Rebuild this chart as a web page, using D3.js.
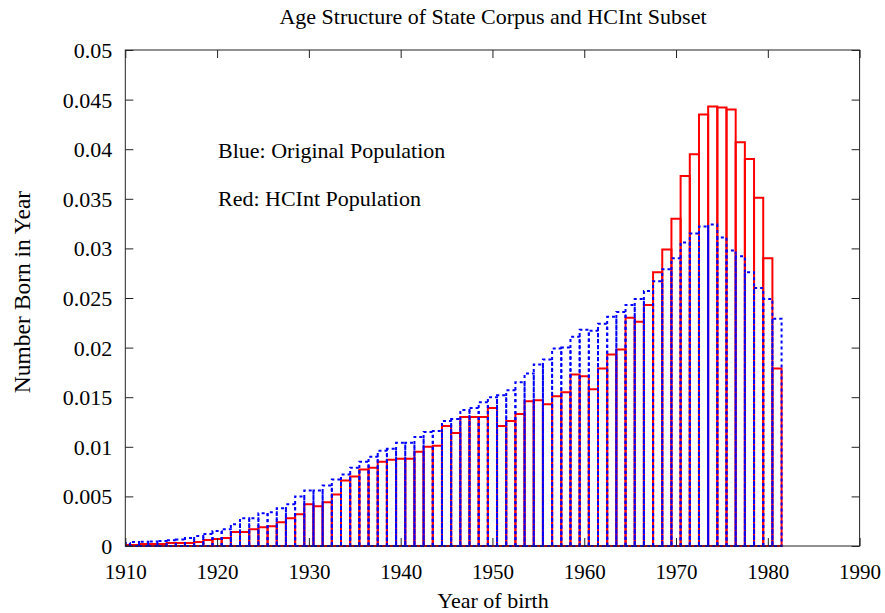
<!DOCTYPE html>
<html>
<head>
<meta charset="utf-8">
<script src="https://cdn.jsdelivr.net/npm/d3@7"></script>
<style>
  html, body { margin: 0; padding: 0; background: #fff; }
  svg { display: block; }
  text { font-family: "Liberation Serif", "DejaVu Serif", serif; fill: #000; }
</style>
</head>
<body>
<script>
// ---- data ----
const years = d3.range(1910, 1982); // 1910..1981
const originalPopulation = [
  0.0003, 0.0004, 0.00044, 0.00045, 0.0005, 0.00057, 0.00065, 0.0008, 0.001, 0.0012,
  0.0015, 0.0017, 0.0022, 0.0028, 0.0028, 0.0033, 0.0034, 0.0038, 0.0042, 0.0050,
  0.0056, 0.0056, 0.0061, 0.0067, 0.0072, 0.0079, 0.0085, 0.0090, 0.0096, 0.0098,
  0.0104, 0.0104, 0.0110, 0.0115, 0.0116, 0.0126, 0.0128, 0.0137, 0.0139, 0.0145,
  0.0150, 0.0152, 0.0157, 0.0165, 0.0174, 0.0183, 0.0188, 0.0199, 0.0200, 0.0211,
  0.0218, 0.0217, 0.0224, 0.0231, 0.0236, 0.0243, 0.0249, 0.0257, 0.0267, 0.0279,
  0.0290, 0.0306, 0.0315, 0.0322, 0.0324, 0.0311, 0.0298, 0.0292, 0.0276, 0.0260,
  0.0249, 0.0229
];
const hcintPopulation = [
  0.0001, 0.0001, 0.0002, 0.0002, 0.0002, 0.0003, 0.0003, 0.0003, 0.0004, 0.0006,
  0.0007, 0.0008, 0.0014, 0.0014, 0.0017, 0.0019, 0.0020, 0.0024, 0.0028, 0.0032,
  0.0042, 0.0040, 0.0044, 0.0052, 0.0066, 0.0070, 0.0077, 0.0079, 0.0085, 0.0087,
  0.0088, 0.0088, 0.0095, 0.0100, 0.0101, 0.0121, 0.0114, 0.0130, 0.0130, 0.0130,
  0.0139, 0.0121, 0.0126, 0.0133, 0.0146, 0.0147, 0.0143, 0.0151, 0.0155, 0.0173,
  0.0171, 0.0158, 0.0179, 0.0193, 0.0198, 0.0230, 0.0226, 0.0243, 0.0276, 0.0299,
  0.0330, 0.0373, 0.0395, 0.0435, 0.0443, 0.0442, 0.0440, 0.0407, 0.0390, 0.0351,
  0.0290, 0.0179
];
const xTicks = [1910, 1920, 1930, 1940, 1950, 1960, 1970, 1980, 1990];
const yTicks = [0, 0.005, 0.01, 0.015, 0.02, 0.025, 0.03, 0.035, 0.04, 0.045, 0.05];
const yTickLabels = ["0", "0.005", "0.01", "0.015", "0.02", "0.025", "0.03", "0.035", "0.04", "0.045", "0.05"];
const titleText = "Age Structure of State Corpus and HCInt Subset";
const xLabel = "Year of birth";
const yLabel = "Number Born in Year";
const notes = ["Blue: Original Population", "Red: HCInt Population"];

// ---- layout ----
const W = 885, H = 613;
const L = 125.3, R = 859.6, T = 50, B = 546;

const svg = d3.select("body").append("svg").attr("width", W).attr("height", H);

const x = d3.scaleLinear().domain([1910, 1990]).range([L, R]);
const y = d3.scaleLinear().domain([0, 0.05]).range([B, T]);

svg.append("defs").append("clipPath").attr("id", "plotclip")
  .append("rect").attr("x", L).attr("y", T - 2).attr("width", R - L).attr("height", B - T + 4);

// ---- bars ----
const plot = svg.append("g").attr("clip-path", "url(#plotclip)");

function boxPath(yr, v) {
  const x0 = x(yr - 0.5), x1 = x(yr + 0.5), y0 = y(0), y1 = y(v);
  return `M${x0},${y0}L${x0},${y1}L${x1},${y1}L${x1},${y0}Z`;
}

plot.append("g").selectAll("path")
  .data(years.map((yr, i) => ({yr, v: hcintPopulation[i]})))
  .join("path")
  .attr("d", d => boxPath(d.yr, d.v))
  .attr("fill", "none")
  .attr("stroke", "#ff0000")
  .attr("stroke-width", 2);

plot.append("g").selectAll("path")
  .data(years.map((yr, i) => ({yr, v: originalPopulation[i]})))
  .join("path")
  .attr("d", d => boxPath(d.yr, d.v))
  .attr("fill", "none")
  .attr("stroke", "#0000ff")
  .attr("stroke-width", 2)
  .attr("stroke-dasharray", "3,3");

// ---- frame & ticks ----
svg.append("rect").attr("x", L).attr("y", T).attr("width", R - L).attr("height", B - T)
  .attr("fill", "none").attr("stroke", "#222").attr("stroke-width", 1);

const tickLen = 8;
const yAxisL = d3.axisLeft(y).tickValues(yTicks).tickSize(-tickLen).tickPadding(13)
  .tickFormat((d, i) => yTickLabels[i]);
const gL = svg.append("g").attr("transform", `translate(${L},0)`).call(yAxisL);

const yAxisR = d3.axisRight(y).tickValues(yTicks).tickSize(-tickLen).tickFormat("");
const gR = svg.append("g").attr("transform", `translate(${R},0)`).call(yAxisR);

const xAxisB = d3.axisBottom(x).tickValues(xTicks).tickSize(-tickLen).tickPadding(18)
  .tickFormat(d3.format("d"));
const gB = svg.append("g").attr("transform", `translate(0,${B})`).call(xAxisB);

const xAxisT = d3.axisTop(x).tickValues(xTicks).tickSize(-tickLen).tickFormat("");
const gT = svg.append("g").attr("transform", `translate(0,${T})`).call(xAxisT);

[gL, gR, gB, gT].forEach(g => {
  g.select(".domain").remove();
  g.selectAll(".tick line").attr("stroke", "#222").attr("stroke-width", 1);
  g.selectAll(".tick text").attr("font-family", "Liberation Serif, serif").attr("font-size", 21).attr("fill", "#000");
});
gL.selectAll(".tick text").attr("font-size", 22).attr("dy", "0.34em");

// ---- text ----
svg.append("text").attr("x", 493).attr("y", 24).attr("text-anchor", "middle")
  .attr("font-size", 22).text(titleText);
svg.append("text").attr("x", 493).attr("y", 608).attr("text-anchor", "middle")
  .attr("font-size", 22).text(xLabel);
svg.append("text").attr("transform", "translate(30,292) rotate(-90)").attr("text-anchor", "middle")
  .attr("font-size", 23.5).text(yLabel);
svg.selectAll("text.note").data(notes).join("text").attr("class", "note")
  .attr("x", 218).attr("y", (d, i) => 158 + i * 48).attr("font-size", 22).text(d => d);
</script>
</body>
</html>
